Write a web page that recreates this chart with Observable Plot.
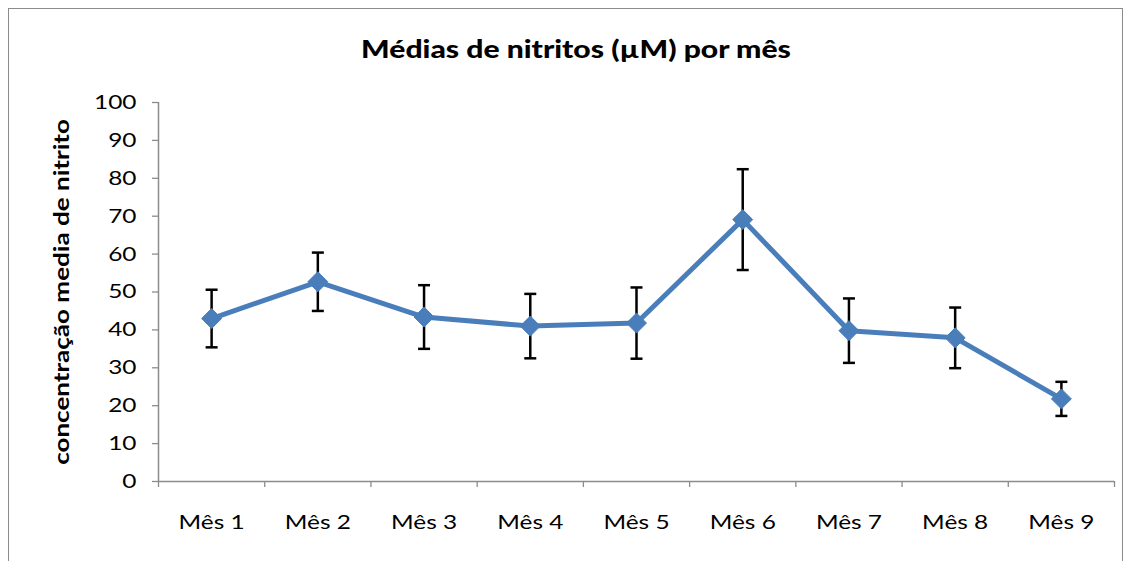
<!DOCTYPE html>
<html>
<head>
<meta charset="utf-8">
<script src="https://cdn.jsdelivr.net/npm/d3@7"></script>
<script src="https://cdn.jsdelivr.net/npm/@observablehq/plot@0.6"></script>
<style>
  body { margin: 0; background: #fff; }
  #wrap { position: relative; width: 1131px; height: 561px; overflow: hidden; background: #fff; font-family: Lato, "Open Sans", sans-serif; }
  #frame { position: absolute; left: 8px; top: 8px; width: 1115px; height: 600px; border: 1px solid #8c8c8c; box-sizing: border-box; }
  #title { position: absolute; top: 33px; left: 576px; transform: translateX(-50%) scaleX(1.18); white-space: nowrap; font-weight: 900; font-size: 25.5px; color: #000; }
  #chart { position: absolute; left: 0; top: 0; }
</style>
</head>
<body>
<div id="wrap">
  <div id="frame"></div>
  <div id="chart"></div>
  <div id="title">Médias de nitritos (µM) por mês</div>
</div>
<script>
const months = ["Mês 1", "Mês 2", "Mês 3", "Mês 4", "Mês 5", "Mês 6", "Mês 7", "Mês 8", "Mês 9"];
const means  = [43.0, 52.7, 43.4, 41.0, 41.8, 69.1, 39.8, 37.9, 21.8];
const errors = [7.6, 7.7, 8.4, 8.5, 9.4, 13.3, 8.5, 8.0, 4.5];
const yTicks = [0, 10, 20, 30, 40, 50, 60, 70, 80, 90, 100];
const yTitle = "concentração media de nitrito";

const data = months.map((m, i) => ({i, month: m, mean: means[i], err: errors[i]}));
const boundaries = d3.range(-0.5, months.length, 1);

const capSymbol = {
  draw(context, size) {
    const w = Math.sqrt(size / Math.PI);
    context.moveTo(-w, 0);
    context.lineTo(w, 0);
  }
};

const blue = "#4A7EBB";
const grey = "#8c8c8c";

const chart = Plot.plot({
  width: 1131,
  height: 561,
  marginLeft: 158,
  marginRight: 17,
  marginTop: 102,
  marginBottom: 80,
  style: {fontFamily: "Lato, 'Open Sans', sans-serif", background: "transparent", overflow: "visible"},
  x: {domain: [-0.5, months.length - 0.5], axis: null, label: null},
  y: {domain: [0, 100], axis: null, label: null},
  marks: [
    // axis ticks and lines
    Plot.axisY(yTicks, {anchor: "left", tickSize: 6, tickFormat: () => "", label: null, stroke: grey, strokeWidth: 1.3}),
    Plot.axisX(boundaries, {anchor: "bottom", tickSize: 6, tickFormat: () => "", label: null, stroke: grey, strokeWidth: 1.3}),
    Plot.ruleX([-0.5], {stroke: grey, strokeWidth: 1.5}),
    Plot.ruleY([0], {stroke: grey, strokeWidth: 1.5}),
    // tick labels
    Plot.text(yTicks, {x: -0.5, y: d => d, text: d => String(d), textAnchor: "end", dx: -22, fontSize: 20, fill: "#000", className: "stretch"}),
    Plot.text(data, {x: "i", y: 0, text: "month", dy: 41, fontSize: 20, fill: "#000", className: "stretch"}),
    // y title
    Plot.text([yTitle], {frameAnchor: "left", textAnchor: "middle", dx: -96, rotate: -90, fontSize: 21, fontWeight: "bold", fill: "#000", className: "stretchT"}),
    // error bars
    Plot.ruleX(data, {x: "i", y1: d => d.mean - d.err, y2: d => d.mean + d.err, stroke: "#000", strokeWidth: 2.5}),
    Plot.dot(data, {x: "i", y: d => d.mean + d.err, symbol: capSymbol, r: 6, stroke: "#000", strokeWidth: 2.5, fill: "none"}),
    Plot.dot(data, {x: "i", y: d => d.mean - d.err, symbol: capSymbol, r: 6, stroke: "#000", strokeWidth: 2.5, fill: "none"}),
    // series
    Plot.line(data, {x: "i", y: "mean", stroke: blue, strokeWidth: 5, strokeLinejoin: "round"}),
    Plot.dot(data, {x: "i", y: "mean", symbol: "diamond2", r: 9, fill: blue, stroke: blue, strokeWidth: 1})
  ]
});
document.getElementById("chart").appendChild(chart);

// widen glyphs to match the reference's broad lettering
function stretch(selector, factor) {
  chart.querySelectorAll(selector + " text").forEach(t => {
    const len = t.getComputedTextLength();
    if (len > 0) {
      t.setAttribute("textLength", (len * factor).toFixed(1));
      t.setAttribute("lengthAdjust", "spacingAndGlyphs");
    }
  });
}
stretch(".stretch", 1.22);
stretch(".stretchT", 1.24);
</script>
</body>
</html>
